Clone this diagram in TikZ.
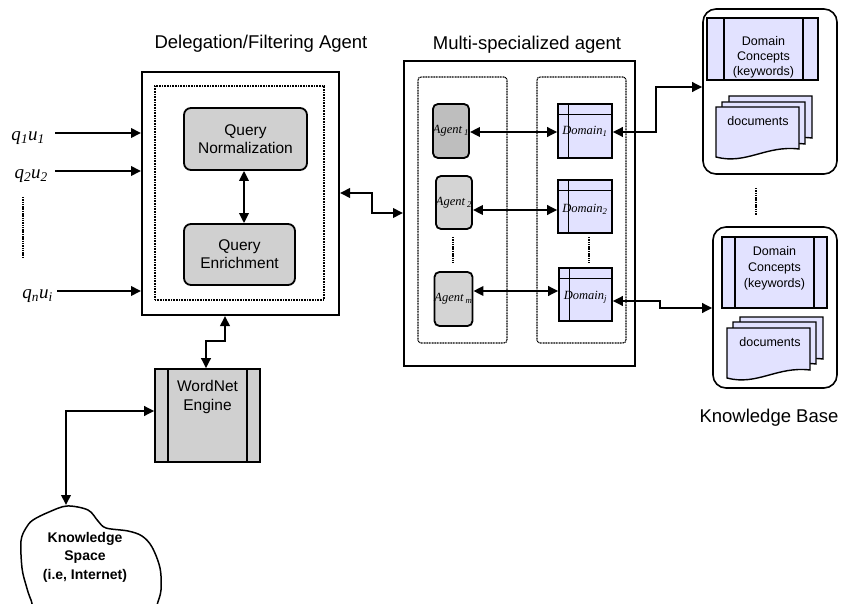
\documentclass[tikz,border=0pt]{standalone}
\usepackage{fontspec}
\setmainfont{Liberation Sans}
\newfontfamily\tnr{Liberation Serif}
\usetikzlibrary{arrows.meta}
\definecolor{lav}{RGB}{226,226,255}
\definecolor{boxgray}{RGB}{208,208,208}
\definecolor{agentdark}{RGB}{190,190,190}
\definecolor{agentlight}{RGB}{212,212,212}
\newcommand{\fsz}[2]{\fontsize{#1pt}{#2pt}\selectfont}
\newcommand{\agentlbl}[1]{{\tnr\itshape Agent\,\textsubscript{#1}}}
\newcommand{\domainlbl}[1]{{\tnr\itshape Domain\textsubscript{#1}}}
% one stacked page with a wavy lower edge, drawn from its top-left corner
\newcommand{\docpage}[2]{%
  \begin{scope}[shift={(#1,#2)}]
    \draw[line width=1.4pt,fill=lav] (0,0) -- (83,0) -- (83,42)
      .. controls (50,38) and (30,58) .. (0,50) -- cycle;
  \end{scope}}
\begin{document}
\begin{tikzpicture}[x=1pt,y=-1pt,
  ahead/.tip={Triangle[length=10pt,width=9.5pt]},
  conn/.style={line width=2pt,ahead-ahead},
  arr/.style={line width=2pt,-ahead},
  outerbox/.style={draw,line width=2pt,inner sep=0pt},
  dotbox/.style={draw,line width=1.1pt,dash pattern=on 1pt off 0.6pt,inner sep=0pt},
  qbox/.style={draw,line width=1.8pt,fill=boxgray,rounded corners=7pt,align=center,
    font=\fsz{15.5}{18},inner sep=0pt},
  agentbox/.style={draw,line width=1.8pt,rounded corners=5pt,inner sep=0pt,
    minimum width=36pt,minimum height=54pt,font=\fsz{12.5}{14}},
  domainbox/.style={draw,line width=1.6pt,fill=lav,inner sep=0pt,
    minimum width=54pt,minimum height=54pt},
  kbbox/.style={draw,line width=1.6pt,rounded corners=13pt,inner sep=0pt},
  stripebox/.style={draw,line width=1.6pt,inner sep=0pt},
  vdots/.style={line width=1.3pt,dash pattern=on 1.5pt off 0.8pt},
  title/.style={font=\fsz{18.5}{22}},
  qlbl/.style={font=\fsz{19}{22}\tnr\itshape,anchor=east,inner sep=0pt}]

\useasboundingbox (0,0) rectangle (841,604);
\fill[white] (0,0) rectangle (841,604);

% ---------------- titles
\node[title] (t1) at (261,44) {Delegation/Filtering Agent};
\node[title] (t2) at (527,45) {Multi-specialized agent};
\node[title] (t3) at (769,418) {Knowledge Base};

% ---------------- delegation / filtering agent
\node[outerbox,minimum width=197pt,minimum height=243pt] (deleg) at (240.5,193.5) {};
\node[dotbox,minimum width=169pt,minimum height=214pt] (delin) at (239.5,193) {};
\node[qbox,minimum width=123pt,minimum height=62pt] (qn) at (245.5,139) {Query\\Normalization};
\node[qbox,minimum width=111pt,minimum height=61pt] (qe) at (239.5,254.5) {Query\\Enrichment};
\coordinate (qx) at (244,0);
\draw[conn] (qn.south -| qx) -- (qe.north -| qx);

% ---------------- user queries
\coordinate (in1) at (55,133);
\coordinate (in2) at (55,171);
\coordinate (in3) at (57,291);
\node[qlbl] (l1) at (45,138) {q\textsubscript{1}u\textsubscript{1}};
\node[qlbl] (l2) at (48,176) {q\textsubscript{2}u\textsubscript{2}};
\node[qlbl] (l3) at (53,296) {q\textsubscript{n}u\textsubscript{i}};
\draw[arr] (in1) -- (deleg.west |- in1);
\draw[arr] (in2) -- (deleg.west |- in2);
\draw[arr] (in3) -- (deleg.west |- in3);
\coordinate (qd1) at (23,197);
\coordinate (qd2) at (23,257);
\draw[vdots] (qd1) -- (qd2);

% ---------------- WordNet engine
\node[stripebox,fill=boxgray,minimum width=105pt,minimum height=93pt] (wn) at (207.5,415.5) {};
\draw[line width=1.6pt] (168,369) -- (168,462) (247,369) -- (247,462);
\node[font=\fsz{15.5}{18.7},align=center,anchor=north] (wnl) at (207.5,377) {WordNet\\Engine};
\coordinate (dw1) at (225,341);
\coordinate (dw2) at (206,341);
\draw[conn] (deleg.south -| dw1) -- (dw1) -- (dw2) -- (wn.north -| dw2);

% ---------------- knowledge space cloud
\draw[line width=1.5pt,fill=white] plot[smooth cycle,tension=0.55] coordinates
  {(21,541) (26,528) (33,520) (49,512) (67,506) (88,510) (98,521) (106,528) (128,531)
   (142,536) (152,547) (160,568) (161,590) (157,605) (152,622) (100,628) (42,622)
   (31,600) (26,585) (22,568)};
\coordinate (cltop) at (66,505);
\node[font=\bfseries\fsz{14}{18.5},align=center] (cl) at (85,557) {Knowledge\\Space\\(i.e, Internet)};
\coordinate (wc) at (66,411);
\draw[conn] (wn.west |- wc) -- (wc) -- (cltop);

% ---------------- multi-specialized agent
\node[outerbox,minimum width=231pt,minimum height=305pt] (multi) at (519.5,213.5) {};
\node[dotbox,rounded corners=3pt,minimum width=89pt,minimum height=266pt] (mleft) at (462.5,210) {};
\node[dotbox,rounded corners=3pt,minimum width=89pt,minimum height=266pt] (mright) at (581.5,210) {};
\coordinate (dm1) at (372,193);
\coordinate (dm2) at (372,213);
\draw[conn] (deleg.east |- dm1) -- (dm1) -- (dm2) -- (multi.west |- dm2);

\node[agentbox,fill=agentdark] (ag1) at (451,131) {\agentlbl{1}};
\node[agentbox,fill=agentlight,minimum height=53pt] (ag2) at (454,202.5) {\agentlbl{2}};
\node[agentbox,fill=agentlight,minimum width=35pt] (agm) at (453.5,299) {\agentlbl{\itshape m}};

\node[domainbox] (dom1) at (585,131) {};
\node[domainbox,minimum height=53pt] (dom2) at (585,206.5) {};
\node[domainbox,minimum width=53pt,minimum height=53pt] (domj) at (585.5,294.5) {};
\foreach \d in {dom1,dom2,domj}{
  \draw[line width=1.3pt] ([yshift=-11pt]\d.north west) -- ([yshift=-11pt]\d.north east);
  \draw[line width=1.3pt] ([xshift=11pt]\d.north west) -- ([xshift=11pt]\d.south west);
}
\node[font=\fsz{12.5}{14}] (dl1) at (dom1) {\domainlbl{1}};
\node[font=\fsz{12.5}{14}] (dl2) at ([yshift=-3pt]dom2.center) {\domainlbl{2}};
\node[font=\fsz{12.5}{14}] (dlj) at ([yshift=-3pt]domj.center) {\domainlbl{\itshape j}};

\coordinate (r1) at (0,132);
\coordinate (r2) at (0,210);
\coordinate (r3) at (0,291);
\draw[conn] (ag1.east |- r1) -- (dom1.west |- r1);
\draw[conn] (ag2.east |- r2) -- (dom2.west |- r2);
\draw[conn] (agm.east |- r3) -- (domj.west |- r3);
\coordinate (ad1) at (453,237);
\coordinate (ad2) at (453,263);
\draw[vdots] (ad1) -- (ad2);
\coordinate (dd1) at (589,237);
\coordinate (dd2) at (589,263);
\draw[vdots] (dd1) -- (dd2);

% ---------------- knowledge base
\node[kbbox,minimum width=134pt,minimum height=165pt] (kb1) at (770,91.5) {};
\node[kbbox,minimum width=124pt,minimum height=161pt] (kb2) at (775,307.5) {};
\coordinate (kd1) at (756,188);
\coordinate (kd2) at (756,215);
\draw[vdots] (kd1) -- (kd2);

\node[stripebox,fill=lav,minimum width=111pt,minimum height=62pt] (dc1) at (762.5,49) {};
\draw[line width=1.6pt] (724,18) -- (724,80) (803,18) -- (803,80);
\node[font=\fsz{12.5}{15},align=center] (dct1) at (763.5,57) {Domain\\Concepts\\(keywords)};
\docpage{729}{96}
\docpage{722}{102}
\docpage{716}{107}
\node[font=\fsz{12.5}{15}] (doc1) at (758,121) {documents};

\node[stripebox,fill=lav,minimum width=105pt,minimum height=71pt] (dc2) at (774.5,272.5) {};
\draw[line width=1.6pt] (735,237) -- (735,308) (814,237) -- (814,308);
\node[font=\fsz{12.5}{16},align=center] (dct2) at (774.5,268) {Domain\\Concepts\\(keywords)};
\docpage{740}{317}
\docpage{733}{322}
\docpage{727}{328}
\node[font=\fsz{12.5}{15}] (doc2) at (770,342) {documents};

\coordinate (k1a) at (656,132);
\coordinate (k1b) at (656,87);
\draw[conn] (dom1.east |- k1a) -- (k1a) -- (k1b) -- (kb1.west |- k1b);
\coordinate (k2a) at (660,301);
\coordinate (k2b) at (660,308);
\draw[conn] (domj.east |- k2a) -- (k2a) -- (k2b) -- (kb2.west |- k2b);

\end{tikzpicture}
\end{document}
